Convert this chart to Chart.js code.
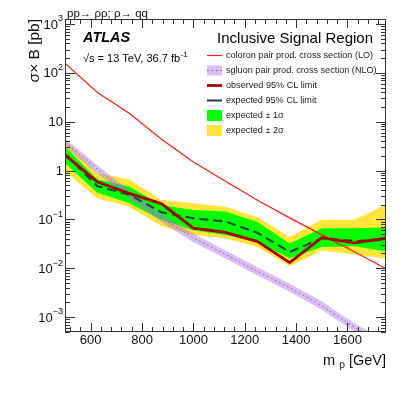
<!DOCTYPE html>
<html><head><meta charset="utf-8">
<script src="https://cdn.jsdelivr.net/npm/chart.js@4/dist/chart.umd.min.js"></script>
<style>html,body{margin:0;padding:0;background:#fff}canvas{display:block}</style>
</head><body>
<canvas id="c" width="407" height="395"></canvas>
<script>
// ---- data ----
const masses     = [500, 625, 750, 875, 1000, 1125, 1250, 1375, 1500, 1625, 1750];
const coloronLO  = [158, 40, 14.8, 4.4, 1.5, 0.60, 0.245, 0.107, 0.048, 0.022, 0.0098];
const sgluonNLO  = [3.8, 1.07, 0.32, 0.107, 0.042, 0.019, 0.0086, 0.0040, 0.0017, 0.00062, 0.00026];
const sgluonUp   = [4.6, 1.3, 0.39, 0.13, 0.051, 0.023, 0.0104, 0.0048, 0.0021, 0.00075, 0.00032];
const sgluonDown = [3.1, 0.88, 0.26, 0.088, 0.034, 0.0157, 0.0071, 0.0033, 0.0014, 0.00051, 0.00021];
const observed   = [2.09, 0.59, 0.34, 0.21, 0.066, 0.054, 0.035, 0.0130, 0.042, 0.033, 0.041];
const expected   = [2.2, 0.48, 0.32, 0.14, 0.105, 0.09, 0.053, 0.0215, 0.041, 0.036, 0.038];
const exp1Up     = [3.1, 0.66, 0.47, 0.197, 0.156, 0.145, 0.088, 0.032, 0.066, 0.066, 0.068];
const exp1Down   = [1.41, 0.355, 0.214, 0.098, 0.060, 0.048, 0.034, 0.016, 0.027, 0.028, 0.022];
const exp2Up     = [4.2, 0.88, 0.66, 0.25, 0.214, 0.18, 0.11, 0.044, 0.098, 0.098, 0.197];
const exp2Down   = [0.95, 0.27, 0.18, 0.073, 0.048, 0.041, 0.027, 0.011, 0.023, 0.019, 0.016];

const xTickValues = [600, 800, 1000, 1200, 1400, 1600];
const xTickLabels = ['600', '800', '1000', '1200', '1400', '1600'];
const yTickValues = [1e-3, 1e-2, 1e-1, 1, 10, 100, 1000];
const yTickBase   = ['10', '10', '10', '1', '10', '10', '10'];
const yTickExp    = ['\u22123', '\u22122', '\u22121', '', '', '2', '3'];

const legendLabels = [
  'coloron pair prod. cross section (LO)',
  'sgluon pair prod. cross section (NLO)',
  'observed 95% CL limit',
  'expected 95% CL limit',
  'expected \u00b1 1\u03c3',
  'expected \u00b1 2\u03c3'
];

// ---- styles ----
const C_RED = '#ff1a1a', C_OBS = '#a80000', C_EXP = '#2c3a48';
const C_GREEN = '#00ff00', C_YELLOW = '#ffe53a';
const C_PURPLE_BAND = 'rgba(172,112,226,0.45)', C_PURPLE_LINE = '#9b59d8';
const FONT = '"Liberation Sans", Arial, Helvetica, sans-serif';

const pts = arr => masses.map((m, i) => ({x: m, y: arr[i]}));
const base = {pointRadius: 0, tension: 0, borderWidth: 0, fill: false};

const datasets = [
  {...base, label: 'observed', data: pts(observed), borderColor: C_OBS, borderWidth: 2.8},
  {...base, label: 'expected', data: pts(expected), borderColor: C_EXP, borderWidth: 2, borderDash: [9, 5]},
  {...base, label: 'coloron', data: pts(coloronLO), borderColor: C_RED, borderWidth: 1.2},
  {...base, label: 'sgluon', data: pts(sgluonNLO), borderColor: C_PURPLE_LINE, borderWidth: 1, borderDash: [2, 2.5]},
  {...base, label: 'sgluonUp', data: pts(sgluonUp), borderColor: 'rgba(0,0,0,0)', backgroundColor: C_PURPLE_BAND, fill: '+1'},
  {...base, label: 'sgluonDown', data: pts(sgluonDown), borderColor: 'rgba(0,0,0,0)'},
  {...base, label: 'exp1Up', data: pts(exp1Up), borderColor: 'rgba(0,0,0,0)', backgroundColor: C_GREEN, fill: '+1'},
  {...base, label: 'exp1Down', data: pts(exp1Down), borderColor: 'rgba(0,0,0,0)'},
  {...base, label: 'exp2Up', data: pts(exp2Up), borderColor: 'rgba(0,0,0,0)', backgroundColor: C_YELLOW, fill: '+1'},
  {...base, label: 'exp2Down', data: pts(exp2Down), borderColor: 'rgba(0,0,0,0)'}
];

const decor = {
  id: 'decor',
  afterDraw(chart) {
    const ctx = chart.ctx;
    const {left, right, top, bottom} = chart.chartArea;
    const xs = chart.scales.x, ys = chart.scales.y;
    ctx.save();
    // frame
    ctx.strokeStyle = '#333';
    ctx.lineWidth = 1;
    ctx.strokeRect(Math.round(left) + 0.5, Math.round(top) + 0.5, Math.round(right - left) - 1, Math.round(bottom - top) - 1);
    // x ticks (bottom and top, inward)
    ctx.beginPath();
    for (let v = 520; v <= 1740; v += 40) {
      const px = Math.round(xs.getPixelForValue(v)) + 0.5;
      const major = (v % 200 === 0);
      const len = major ? 9 : 5;
      ctx.moveTo(px, bottom); ctx.lineTo(px, bottom - len);
      ctx.moveTo(px, top); ctx.lineTo(px, top + len);
    }
    // y ticks (left and right, inward)
    for (let d = -4; d <= 3; d++) {
      for (let k = 1; k <= 9; k++) {
        const v = k * Math.pow(10, d);
        if (v < ys.min || v > ys.max) continue;
        const py = Math.round(ys.getPixelForValue(v)) + 0.5;
        const len = k === 1 ? 10 : 5;
        ctx.moveTo(left, py); ctx.lineTo(left + len, py);
        ctx.moveTo(right, py); ctx.lineTo(right - len, py);
      }
    }
    ctx.stroke();

    ctx.fillStyle = '#111';
    ctx.textBaseline = 'middle';
    // x tick labels
    ctx.font = '13px ' + FONT;
    ctx.textAlign = 'center';
    xTickValues.forEach((v, i) => ctx.fillText(xTickLabels[i], xs.getPixelForValue(v), 340));
    // y tick labels with superscripts
    yTickValues.forEach((v, i) => {
      const py = ys.getPixelForValue(v);
      const xr = left - 2;
      ctx.textAlign = 'right';
      ctx.font = '9px ' + FONT;
      const ew = yTickExp[i] ? ctx.measureText(yTickExp[i]).width : 0;
      if (yTickExp[i]) ctx.fillText(yTickExp[i], xr, py - 5);
      ctx.font = '13px ' + FONT;
      ctx.fillText(yTickBase[i], xr - ew, py + 1);
    });
    // y title
    ctx.save();
    ctx.translate(35, top);
    ctx.rotate(-Math.PI / 2);
    ctx.font = '15.5px ' + FONT;
    ctx.textAlign = 'right';
    ctx.fillText('\u03c3\u00d7 B [pb]', 0, 0);
    ctx.restore();
    // x title with subscript
    ctx.textAlign = 'left';
    ctx.font = '14.5px ' + FONT;
    const wm = ctx.measureText('m ').width;
    const wg = ctx.measureText(' [GeV]').width;
    ctx.font = '10px ' + FONT;
    const wr = ctx.measureText('\u03c1').width;
    let x0 = right - (wm + wr + wg);
    ctx.font = '14.5px ' + FONT;
    ctx.fillText('m ', x0, 361);
    ctx.font = '10px ' + FONT;
    ctx.fillText('\u03c1', x0 + wm, 365);
    ctx.font = '14.5px ' + FONT;
    ctx.fillText(' [GeV]', x0 + wm + wr, 361);

    // top-left process label
    ctx.font = '11.5px ' + FONT;
    ctx.fillText('pp\u2192 \u03c1\u03c1; \u03c1\u2192 qq', 67, 13.5);
    // ATLAS
    ctx.fillStyle = '#000';
    ctx.font = 'italic bold 14.5px ' + FONT;
    ctx.fillText('ATLAS', 83, 38);
    ctx.font = '11px ' + FONT;
    const s1 = '\u221as = 13 TeV, 36.7 fb';
    ctx.fillText(s1, 83, 59);
    const w1 = ctx.measureText(s1).width;
    ctx.font = '8px ' + FONT;
    ctx.fillText('-1', 83 + w1 + 0.5, 55);
    // region title
    ctx.font = '15px ' + FONT;
    ctx.textAlign = 'right';
    ctx.fillText('Inclusive Signal Region', 373, 38.5);

    // legend
    const lx0 = 207, lx1 = 222, tx = 226;
    const ly = [55.5, 70.5, 85.5, 100.5, 115.5, 130.5];
    ctx.textAlign = 'left';
    ctx.font = '9.1px ' + FONT;
    ctx.fillStyle = '#1a1a1a';
    legendLabels.forEach((t, i) => ctx.fillText(t, tx, ly[i]));
    // samples
    ctx.lineCap = 'butt';
    ctx.strokeStyle = C_RED; ctx.lineWidth = 1.2;
    ctx.beginPath(); ctx.moveTo(lx0, ly[0]); ctx.lineTo(lx1, ly[0]); ctx.stroke();
    ctx.fillStyle = C_PURPLE_BAND; ctx.fillRect(lx0, ly[1] - 5, lx1 - lx0, 10);
    ctx.strokeStyle = C_PURPLE_LINE; ctx.lineWidth = 1; ctx.setLineDash([2, 2.5]);
    ctx.beginPath(); ctx.moveTo(lx0, ly[1]); ctx.lineTo(lx1, ly[1]); ctx.stroke();
    ctx.setLineDash([]);
    ctx.strokeStyle = C_OBS; ctx.lineWidth = 2.8;
    ctx.beginPath(); ctx.moveTo(lx0, ly[2]); ctx.lineTo(lx1, ly[2]); ctx.stroke();
    ctx.strokeStyle = C_EXP; ctx.lineWidth = 2;
    ctx.beginPath(); ctx.moveTo(lx0, ly[3]); ctx.lineTo(lx1, ly[3]); ctx.stroke();
    ctx.fillStyle = C_GREEN; ctx.fillRect(lx0, ly[4] - 5.5, lx1 - lx0, 11);
    ctx.fillStyle = C_YELLOW; ctx.fillRect(lx0, ly[5] - 5.5, lx1 - lx0, 11);
    ctx.restore();
  }
};

new Chart(document.getElementById('c'), {
  type: 'line',
  data: {datasets},
  options: {
    responsive: false,
    animation: false,
    events: [],
    layout: {padding: {left: 65, right: 21, top: 19, bottom: 63}},
    plugins: {legend: {display: false}, tooltip: {enabled: false}, title: {display: false}},
    scales: {
      x: {type: 'linear', min: 500, max: 1750, display: false},
      y: {type: 'logarithmic', min: 4.93e-4, max: 1266, display: false}
    }
  },
  plugins: [decor]
});
</script>
</body></html>
